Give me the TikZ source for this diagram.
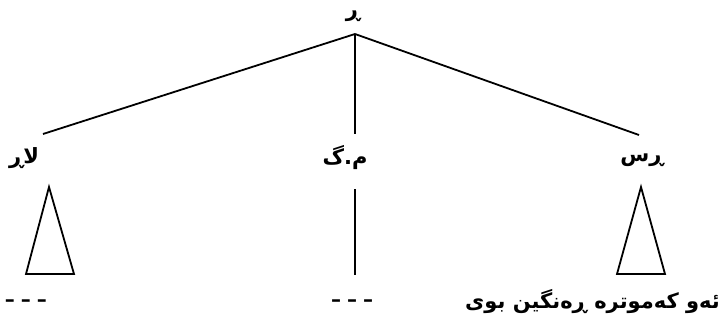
\documentclass[tikz,border=0pt]{standalone}
\usepackage{fontspec}
\newfontfamily\arabicfont[Script=Arabic]{DejaVu Sans}
\TeXXeTstate=1
\begin{document}
\begin{tikzpicture}[x=1pt,y=-1pt,
  lbl/.style={font=\arabicfont\bfseries\fontsize{21}{25}\selectfont, inner sep=0pt},
  dashtxt/.style={font=\arabicfont\bfseries\fontsize{20}{24}\selectfont, inner sep=0pt},
  edge/.style={line width=1.8pt},
  tri/.style={line width=1.8pt, line join=miter}]
\useasboundingbox (0,0) rectangle (727,324);
\node[lbl] (top) at (353,16) {\beginR ڕ\endR};
\coordinate (apex) at (355,34);
\coordinate (lend) at (43,134);
\coordinate (mend) at (355,134);
\coordinate (rend) at (639,135);
\draw[edge] (apex) -- (lend);
\draw[edge] (apex) -- (mend);
\draw[edge] (apex) -- (rend);
\node[lbl] (lar) at (24,158) {\beginR لاڕ\endR};
\node[lbl] (mg) at (345,158) {\beginR م.گ\endR};
\node[lbl] (rs) at (642,160) {\beginR ڕس\endR};
\coordinate (lt) at (49,187);
\draw[tri] (lt) -- (26,274) -- (74,274) -- cycle;
\coordinate (rt) at (641,187);
\draw[tri] (rt) -- (617,274) -- (665,274) -- cycle;
\coordinate (ms) at (355,189);
\coordinate (me) at (355,275);
\draw[edge] (ms) -- (me);
\node[dashtxt] (d1) at (26,303) {–\hspace{6pt}–\hspace{6pt}–};
\node[dashtxt] (d2) at (352,303) {–\hspace{6pt}–\hspace{6pt}–};
\node[lbl, anchor=east] (txt) at (720,302) {\beginR ئەو کەموترە ڕەنگین بوی\endR};
\end{tikzpicture}
\end{document}
